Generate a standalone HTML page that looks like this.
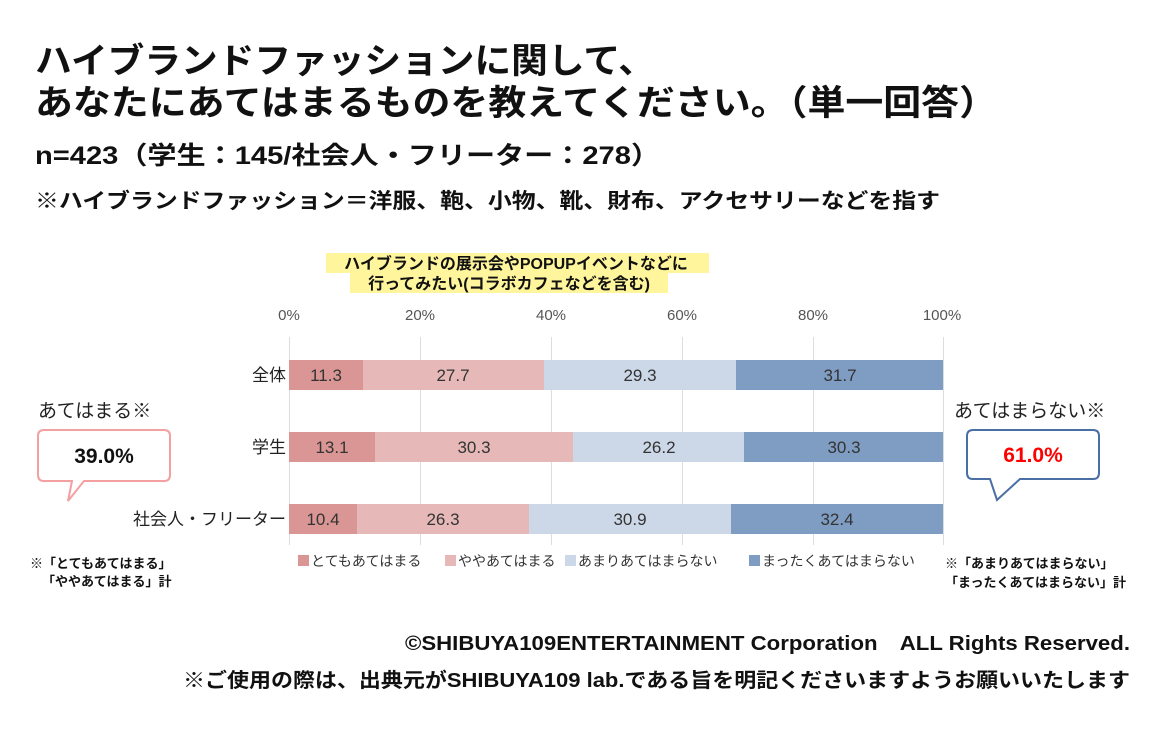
<!DOCTYPE html>
<html><head><meta charset="utf-8"><style>
html,body{margin:0;padding:0;background:#fff;}
svg{display:block;font-family:"Liberation Sans","Noto Sans CJK JP",sans-serif;}
</style></head><body>
<svg width="1160" height="730" viewBox="0 0 1160 730" xmlns="http://www.w3.org/2000/svg">
<rect width="1160" height="730" fill="#fff"/>
<g font-weight="bold" fill="#111">
<text x="35" y="73" font-size="35" textLength="620" lengthAdjust="spacingAndGlyphs">ハイブランドファッションに関して、</text>
<text x="35" y="115" font-size="35" textLength="962" lengthAdjust="spacingAndGlyphs">あなたにあてはまるものを教えてください。（単一回答）</text>
<text x="35" y="164" font-size="25" textLength="625" lengthAdjust="spacingAndGlyphs">n=423（学生：145/社会人・フリーター：278）</text>
<text x="35" y="208" font-size="21" textLength="905" lengthAdjust="spacingAndGlyphs">※ハイブランドファッション＝洋服、鞄、小物、靴、財布、アクセサリーなどを指す</text>
</g>
<rect x="326" y="253" width="383" height="20" fill="#fff59d"/>
<rect x="350" y="273" width="318" height="20" fill="#fff59d"/>
<g font-weight="bold" font-size="16" fill="#111" text-anchor="middle">
<text x="516" y="269">ハイブランドの展示会やPOPUPイベントなどに</text>
<text x="509" y="289">行ってみたい(コラボカフェなどを含む)</text>
</g>
<g font-size="15" fill="#555" text-anchor="middle">
<text x="289" y="320">0%</text><text x="420" y="320">20%</text><text x="551" y="320">40%</text>
<text x="682" y="320">60%</text><text x="813" y="320">80%</text><text x="942" y="320">100%</text>
</g>
<g stroke="#ddd" stroke-width="1">
<line x1="289.5" y1="337" x2="289.5" y2="545"/><line x1="420.5" y1="337" x2="420.5" y2="545"/>
<line x1="551.5" y1="337" x2="551.5" y2="545"/><line x1="682.5" y1="337" x2="682.5" y2="545"/>
<line x1="813.5" y1="337" x2="813.5" y2="545"/><line x1="943.5" y1="337" x2="943.5" y2="545"/>
</g>
<g>
<rect x="289" y="360" width="74" height="30" fill="#da9694"/>
<rect x="363" y="360" width="181" height="30" fill="#e6b9b8"/>
<rect x="544" y="360" width="192" height="30" fill="#ccd8e7"/>
<rect x="736" y="360" width="207" height="30" fill="#7f9dc3"/>
<rect x="289" y="432" width="86" height="30" fill="#da9694"/>
<rect x="375" y="432" width="198" height="30" fill="#e6b9b8"/>
<rect x="573" y="432" width="171" height="30" fill="#ccd8e7"/>
<rect x="744" y="432" width="199" height="30" fill="#7f9dc3"/>
<rect x="289" y="504" width="68" height="30" fill="#da9694"/>
<rect x="357" y="504" width="172" height="30" fill="#e6b9b8"/>
<rect x="529" y="504" width="202" height="30" fill="#ccd8e7"/>
<rect x="731" y="504" width="212" height="30" fill="#7f9dc3"/>
</g>
<g font-size="17" fill="#333" text-anchor="middle">
<text x="326" y="381">11.3</text><text x="453" y="381">27.7</text><text x="640" y="381">29.3</text><text x="840" y="381">31.7</text>
<text x="332" y="453">13.1</text><text x="474" y="453">30.3</text><text x="659" y="453">26.2</text><text x="844" y="453">30.3</text>
<text x="323" y="525">10.4</text><text x="443" y="525">26.3</text><text x="630" y="525">30.9</text><text x="837" y="525">32.4</text>
</g>
<g font-size="17" fill="#222" text-anchor="end">
<text x="286" y="381">全体</text><text x="286" y="453">学生</text><text x="286" y="525">社会人・フリーター</text>
</g>
<g font-size="14" fill="#333">
<rect x="298" y="555" width="11" height="11" fill="#da9694"/><text x="311" y="566">とてもあてはまる</text>
<rect x="445" y="555" width="11" height="11" fill="#e6b9b8"/><text x="458" y="566">ややあてはまる</text>
<rect x="565" y="555" width="11" height="11" fill="#ccd8e7"/><text x="578" y="566">あまりあてはまらない</text>
<rect x="749" y="555" width="11" height="11" fill="#7f9dc3"/><text x="762" y="566">まったくあてはまらない</text>
</g>
<text x="38" y="417" font-size="19" fill="#222">あてはまる※</text>
<path d="M44,430 H164 Q170,430 170,436 V475 Q170,481 164,481 H84 L68,501 L72,481 H44 Q38,481 38,475 V436 Q38,430 44,430 Z" fill="#fff" stroke="#f4a0a0" stroke-width="2"/>
<text x="104" y="463" font-size="21" font-weight="bold" fill="#111" text-anchor="middle">39.0%</text>
<text x="954" y="417" font-size="19" fill="#222">あてはまらない※</text>
<path d="M973,430 H1093 Q1099,430 1099,436 V473 Q1099,479 1093,479 H1020 L997,500 L990,479 H973 Q967,479 967,473 V436 Q967,430 973,430 Z" fill="#fff" stroke="#4a6fa5" stroke-width="2"/>
<text x="1033" y="462" font-size="21" font-weight="bold" fill="#ff0000" text-anchor="middle">61.0%</text>
<g font-size="13" font-weight="bold" fill="#111">
<text x="30" y="568">※「とてもあてはまる」</text>
<text x="42" y="586">「ややあてはまる」計</text>
<text x="945" y="568">※「あまりあてはまらない」</text>
<text x="945" y="587">「まったくあてはまらない」計</text>
</g>
<g font-size="20" font-weight="bold" fill="#111">
<text x="405" y="650" textLength="725" lengthAdjust="spacingAndGlyphs">©SHIBUYA109ENTERTAINMENT Corporation　ALL Rights Reserved.</text>
<text x="183" y="687" textLength="947" lengthAdjust="spacingAndGlyphs">※ご使用の際は、出典元がSHIBUYA109 lab.である旨を明記くださいますようお願いいたします</text>
</g>
</svg>
</body></html>
